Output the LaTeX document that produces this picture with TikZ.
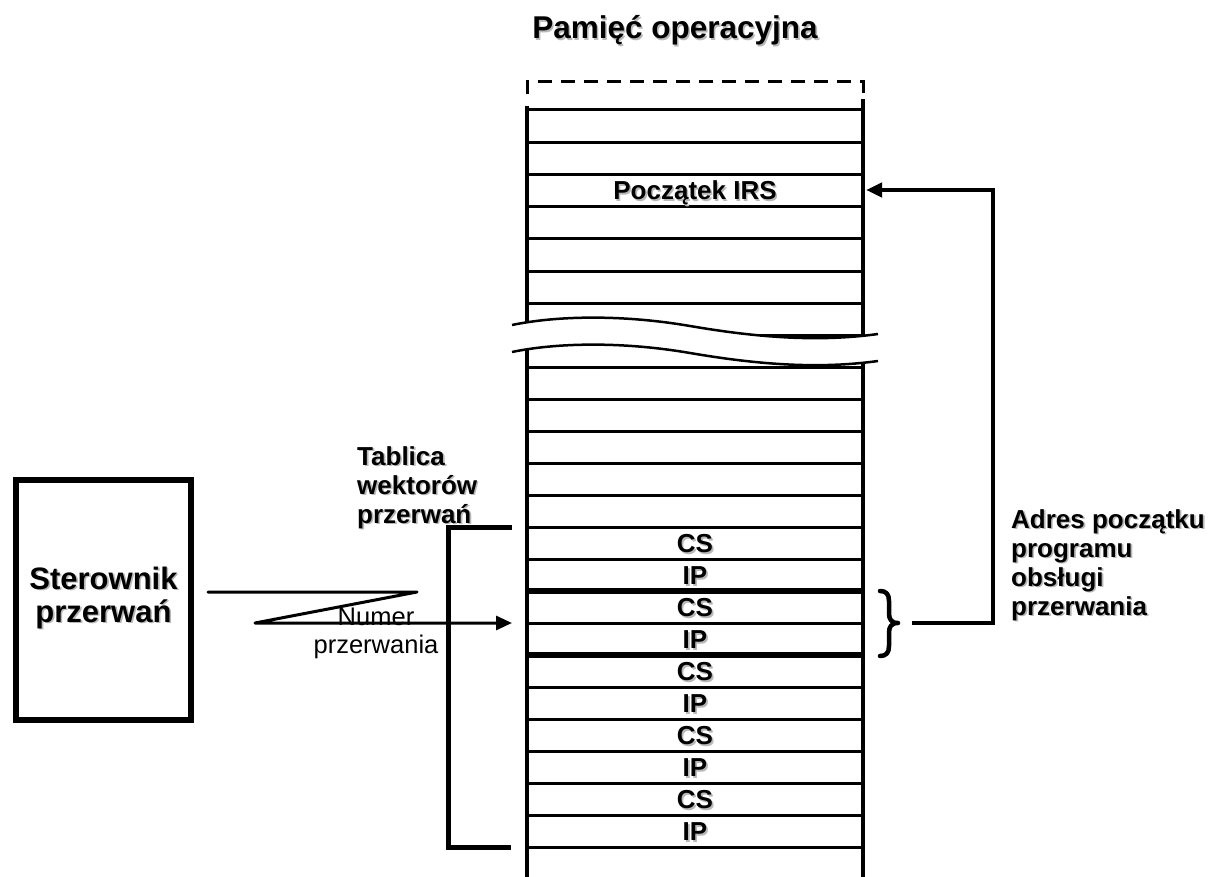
\documentclass[tikz,border=0pt]{standalone}
\usepackage{fontspec}
\setmainfont{Liberation Sans}
\usetikzlibrary{arrows.meta}
\newcommand\shtxt[1]{\leavevmode\rlap{\kern1.6pt\raisebox{-1.6pt}{\textcolor{black!28}{#1}}}#1}
\begin{document}
\begin{tikzpicture}[x=1pt,y=-1pt]
\useasboundingbox (0,0) rectangle (1214,877);
\tikzset{
  rowline/.style={line width=3pt},
  thickrow/.style={line width=5.5pt},
  colline/.style={line width=3.5pt},
  dashtop/.style={line width=3pt, dash pattern=on 14pt off 9pt},
  wave/.style={line width=2.5pt},
  zline/.style={line width=3pt, line cap=round, line join=round},
  conn/.style={line width=4pt, line join=miter},
  brk/.style={line width=5pt, line join=miter},
  tip/.style={-{Triangle[length=16pt,width=14pt]}},
  lbl/.style={font=\bfseries\fontsize{26}{29}\selectfont, inner sep=0pt},
  big/.style={font=\bfseries\fontsize{31}{34}\selectfont, inner sep=0pt},
  ttl/.style={font=\bfseries\fontsize{31.5}{34}\selectfont, inner sep=0pt},
  reg/.style={font=\fontsize{25.5}{28}\selectfont, inner sep=0pt},
  cell/.style={lbl, anchor=base},
}
% ---------- memory column ----------
\coordinate (mtl) at (527,82);
\coordinate (mtr) at (863,82);
\draw[dashtop] (527,94) -- (mtl) -- (mtr) -- (863,94);
\foreach \y in {110,142.2,174.4,206.6,238.8,271,303.2,335.4,367,399,431,463,495,527,559,623,687,719,751,783,815,847}
  \draw[rowline] (527,\y) -- (863,\y);
\foreach \y in {591,655}
  \draw[thickrow] (527,\y) -- (863,\y);
\draw[colline] (527,106) -- (527,877);
\draw[colline] (863,99) -- (863,877);
% break
\fill[white] (512,325) .. controls (555,316) and (620,314) .. (690,326)
  .. controls (760,338) and (820,342) .. (878,334) -- (878,361)
  .. controls (820,369) and (760,365) .. (690,353)
  .. controls (620,341) and (555,343) .. (512,352) -- cycle;
\draw[wave] (512,325) .. controls (555,316) and (620,314) .. (690,326)
  .. controls (760,338) and (820,342) .. (878,334);
\draw[wave] (512,352) .. controls (555,343) and (620,341) .. (690,353)
  .. controls (760,365) and (820,369) .. (878,361);
% cell texts
\node[cell] (irs) at (695,199.5) {\shtxt{Początek IRS}};
\node[cell] (c1) at (695,552.5) {\shtxt{CS}};
\node[cell] (i1) at (695,584.5) {\shtxt{IP}};
\node[cell] (c2) at (695,616.5) {\shtxt{CS}};
\node[cell] (i2) at (695,648.5) {\shtxt{IP}};
\node[cell] (c3) at (695,680.5) {\shtxt{CS}};
\node[cell] (i3) at (695,712.5) {\shtxt{IP}};
\node[cell] (c4) at (695,744.5) {\shtxt{CS}};
\node[cell] (i4) at (695,776.5) {\shtxt{IP}};
\node[cell] (c5) at (695,808.5) {\shtxt{CS}};
\node[cell] (i5) at (695,840.5) {\shtxt{IP}};
% title
\node[ttl, anchor=base] (title) at (675,39) {\shtxt{Pamięć operacyjna}};
% ---------- controller ----------
\node[draw, line width=5.5pt, minimum width=175pt, minimum height=240pt, inner sep=0pt] (ster) at (103.5,600) {};
\node[big, anchor=base] (s1) at (103.5,589) {\shtxt{Sterownik}};
\node[big, anchor=base] (s2) at (103.5,622) {\shtxt{przerwań}};
% Z connector with arrow
\coordinate (z1) at (208,592);
\coordinate (z2) at (417,592);
\coordinate (z3) at (255,623);
\coordinate (z4) at (512,623);
\draw[zline, tip] (z1) -- (z2) -- (z3) -- (z4);
\node[reg, anchor=base] (n1) at (376,625) {Numer};
\node[reg, anchor=base] (n2) at (376,653) {przerwania};
% ---------- vector table bracket ----------
\coordinate (b1) at (512,527);
\coordinate (b2) at (448,527);
\coordinate (b3) at (448,847);
\coordinate (b4) at (511,847);
\draw[brk] (b1) -- (b2) -- (b3) -- (b4);
\node[lbl, anchor=base west] (t1) at (357,465) {\shtxt{Tablica}};
\node[lbl, anchor=base west] (t2) at (357,494) {\shtxt{wektorów}};
\node[lbl, anchor=base west] (t3) at (357,523) {\shtxt{przerwań}};
% ---------- brace ----------
\coordinate (brtop) at (880,591);
\coordinate (brtip) at (898,623);
\coordinate (brbot) at (880,656);
\draw[line width=4.5pt, line cap=round, line join=round] (brtop) .. controls (886,591) and (889,594) .. (889,601)
  -- (889,613) .. controls (889,619) and (891,623) .. (brtip)
  .. controls (891,623) and (889,627) .. (889,633)
  -- (889,646) .. controls (889,653) and (886,656) .. (brbot);
% ---------- address connector ----------
\coordinate (a1) at (912,623);
\coordinate (a2) at (993,623);
\coordinate (a3) at (993,190);
\coordinate (a4) at (866,190);
\draw[conn, tip] (a1) -- (a2) -- (a3) -- (a4);
\node[lbl, anchor=base west] (d1) at (1011,528) {\shtxt{Adres początku}};
\node[lbl, anchor=base west] (d2) at (1011,557) {\shtxt{programu}};
\node[lbl, anchor=base west] (d3) at (1011,586) {\shtxt{obsługi}};
\node[lbl, anchor=base west] (d4) at (1011,615) {\shtxt{przerwania}};
\end{tikzpicture}
\end{document}
